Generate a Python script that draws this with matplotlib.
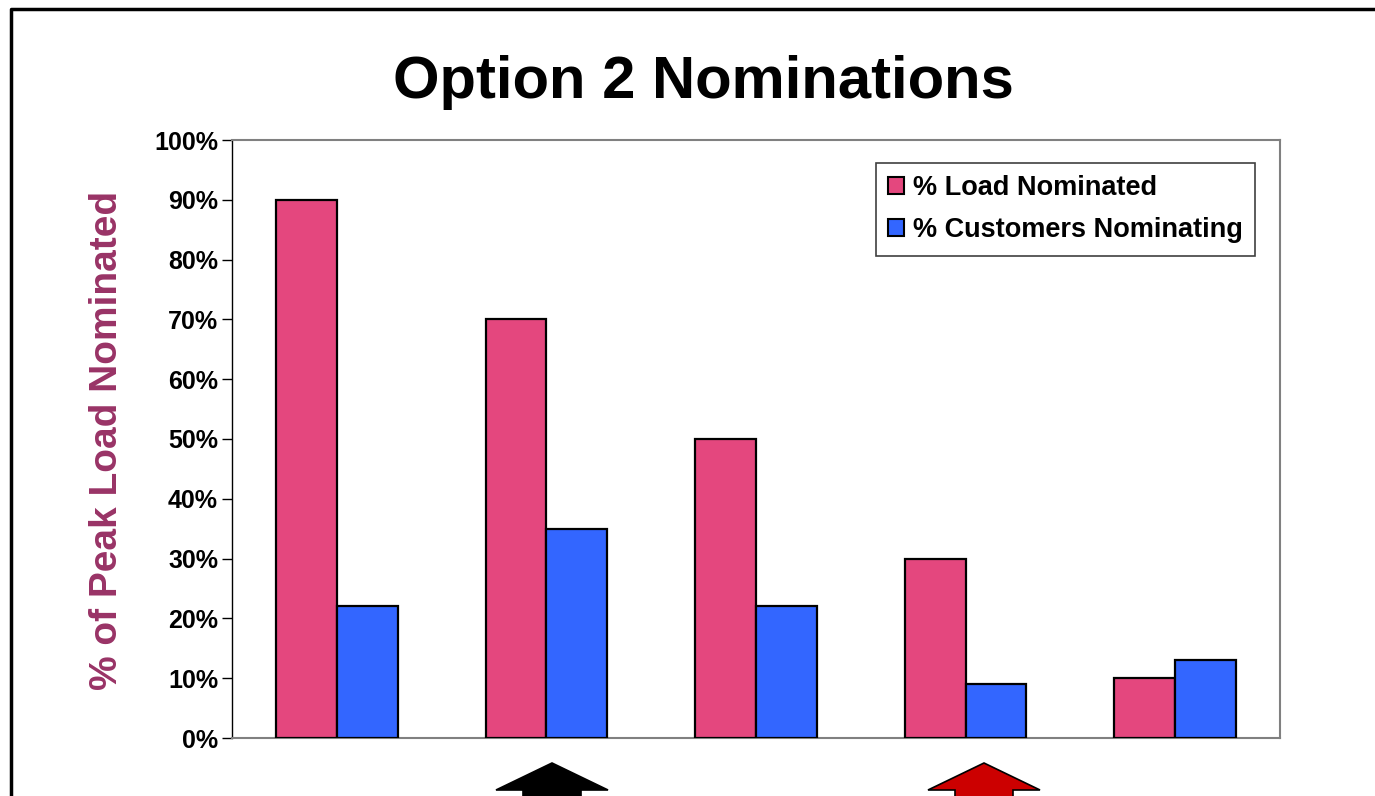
import numpy as np
import matplotlib
matplotlib.use('Agg')
import matplotlib.pyplot as plt
from matplotlib.patches import Polygon, Patch
from matplotlib.lines import Line2D

plt.rc('font', family='Liberation Sans', weight='bold')

### data
groups = ['1', '2', '3', '4', '5']
load_nominated = [90, 70, 50, 30, 10]
customers_nominating = [22, 35, 22, 9, 13]
yticks = [0, 10, 20, 30, 40, 50, 60, 70, 80, 90, 100]
ytick_labels = [f'{v}%' for v in yticks]

title = 'Option 2 Nominations'
ylabel = '% of Peak Load Nominated'
series_names = ['% Load Nominated', '% Customers Nominating']

# the original pink bars are a fine red/lavender dither; use its mean colour
pink = '#E4477E'
blue = '#3366FF'
purple = '#993366'

W, H = 1375, 796
fig = plt.figure(figsize=(W / 100, H / 100), dpi=100)
ax = fig.add_axes([232 / W, (H - 738) / H, 1048 / W, 598 / H])

x = np.arange(len(groups))
bw = 0.29
ax.bar(x - bw / 2, load_nominated, bw, color=pink, edgecolor='black',
       linewidth=1.6, zorder=3)
ax.bar(x + bw / 2, customers_nominating, bw, color=blue, edgecolor='black',
       linewidth=1.6, zorder=3)

ax.set_xlim(-0.5, len(groups) - 0.5)
ax.set_ylim(0, 100)
ax.set_xticks([])
ax.set_yticks(yticks)
ax.set_yticklabels(ytick_labels)
ax.tick_params(axis='y', direction='out', length=7, width=1, colors='black',
               labelsize=18, pad=3)
for lab in ax.get_yticklabels():
    lab.set_fontweight('bold')
for s in ['top', 'right', 'bottom']:
    ax.spines[s].set_color('#808080')
    ax.spines[s].set_linewidth(1.5)
ax.spines['left'].set_color('black')
ax.spines['left'].set_linewidth(1)

handles = [Patch(facecolor=pink, edgecolor='black', linewidth=1.5),
           Patch(facecolor=blue, edgecolor='black', linewidth=1.5)]
leg = ax.legend(handles, series_names, loc='upper left',
                bbox_to_anchor=((876 - 232) / 1048, (738 - 163) / 598),
                borderaxespad=0, fancybox=False, frameon=True, framealpha=1,
                edgecolor='#404040', prop={'size': 19.5, 'weight': 'bold'},
                handlelength=0.6, handleheight=0.6, handletextpad=0.3,
                labelspacing=0.6, borderpad=0.45)
leg.get_frame().set_linewidth(1.2)

fig.text(703 / W, (H - 98) / H, title, ha='center', va='baseline',
         fontsize=43, fontweight='bold')
fig.text(107 / W, (H - 440) / H, ylabel, ha='center', va='center', rotation=90,
         fontsize=28, fontweight='bold', color=purple)

# outer frame (left and top edges)
fig.add_artist(Line2D([11 / W, 11 / W, 1.0], [0, (H - 9) / H, (H - 9) / H],
                      transform=fig.transFigure, color='black', linewidth=2.5))

# arrows at the bottom, cut by the figure edge
def up_arrow(cx, face):
    pts = [(cx, 763), (cx + 56, 790), (cx + 29, 790), (cx + 29, 810),
           (cx - 29, 810), (cx - 29, 790), (cx - 56, 790)]
    pts = [(px / W, (H - py) / H) for px, py in pts]
    fig.add_artist(Polygon(pts, closed=True, facecolor=face, edgecolor='black',
                           linewidth=1.2, transform=fig.transFigure))

up_arrow(552, 'black')
up_arrow(984, '#CC0000')

fig.savefig('out.png', dpi=100)
